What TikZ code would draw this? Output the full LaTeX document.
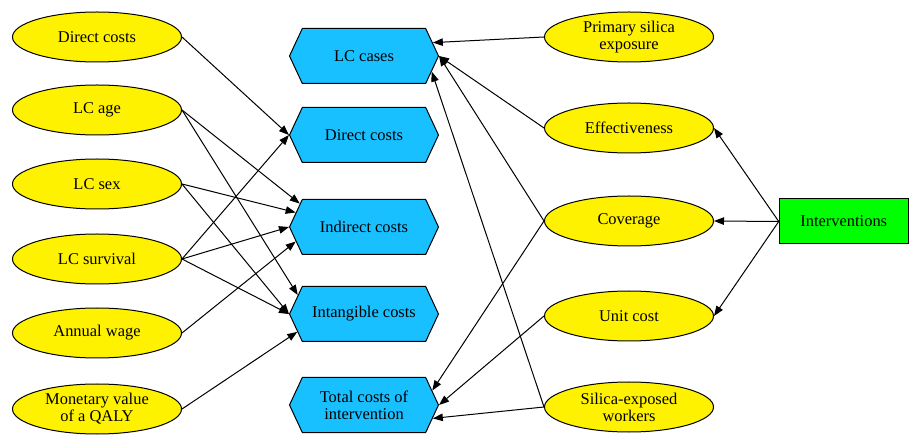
\documentclass[tikz,border=0pt]{standalone}
\usepackage{fontspec}
\setmainfont{Liberation Serif}
\usetikzlibrary{shapes.geometric,shapes.symbols,arrows.meta}
\definecolor{hexblue}{RGB}{25,192,255}
\tikzset{
  var/.style={ellipse, draw, fill=yellow, minimum width=169bp, minimum height=50bp,
    inner sep=0pt, align=center, font=\fontsize{16.5}{17}\selectfont},
  outc/.style={signal, signal to=west and east, signal pointer angle=130, draw,
    fill=hexblue, minimum width=149bp, minimum height=55bp, inner sep=0pt,
    align=center, font=\fontsize{16.5}{17}\selectfont},
  ctrl/.style={rectangle, draw, fill=green, minimum width=129bp, minimum height=45bp,
    inner sep=0pt, font=\fontsize{16.5}{17}\selectfont}
}
\begin{document}
\begin{tikzpicture}[x=1bp,y=-1bp,line width=1bp]
      \useasboundingbox (0,0) rectangle (909,435);
      % inputs on the left
      \draw
        (97,37) node[var] (dcin){Direct costs}
        (97,110) node[var] (age){LC age}
        (97,184) node[var] (sex){LC sex}
        (97,259) node[var] (surv){LC survival}
        (97,333) node[var] (wage){Annual wage}
        (97,409) node[var] (qaly){Monetary value\\of a QALY};
      % outcomes in the middle
      \draw
        (364,56) node[outc] (cases){LC cases}
        (364,135) node[outc] (dcout){Direct costs}
        (364,227) node[outc] (indir){Indirect costs}
        (364,314) node[outc] (intang){Intangible costs}
        (364,405) node[outc] (total){Total costs of\\intervention};
      % inputs on the right
      \draw
        (629,37) node[var] (prim){Primary silica\\exposure}
        (629,128) node[var] (eff){Effectiveness}
        (629,221) node[var] (cov){Coverage}
        (629,316) node[var] (unit){Unit cost}
        (629,407) node[var] (work){Silica-exposed\\workers}
        (843.75,221.5) node[ctrl] (interv){Interventions};
      \begin{scope}[-{Triangle[length=10bp,width=7.5bp]}]
        \draw (dcin.east) to (dcout.west);
        \draw (age.east) to (indir.160);
        \draw (age.east) to (intang.164);
        \draw (sex.east) to (indir.168);
        \draw (sex.east) to (intang.west);
        \draw (surv.east) to (dcout.west);
        \draw (surv.east) to (indir.west);
        \draw (surv.east) to (intang.west);
        \draw (wage.east) to (indir.192);
        \draw (qaly.east) to (intang.195);
        \draw (prim.west) to (cases.11);
        \draw (eff.west) to (cases.east);
        \draw (cov.west) to (cases.east);
        \draw (work.west) to (cases.-13);
        \draw (cov.west) to (total.12);
        \draw (unit.west) to (total.east);
        \draw (work.west) to (total.-11);
        \draw (interv.west) to (eff.east);
        \draw (interv.west) to (cov.east);
        \draw (interv.west) to (unit.east);
      \end{scope}
    \end{tikzpicture}
\end{document}
